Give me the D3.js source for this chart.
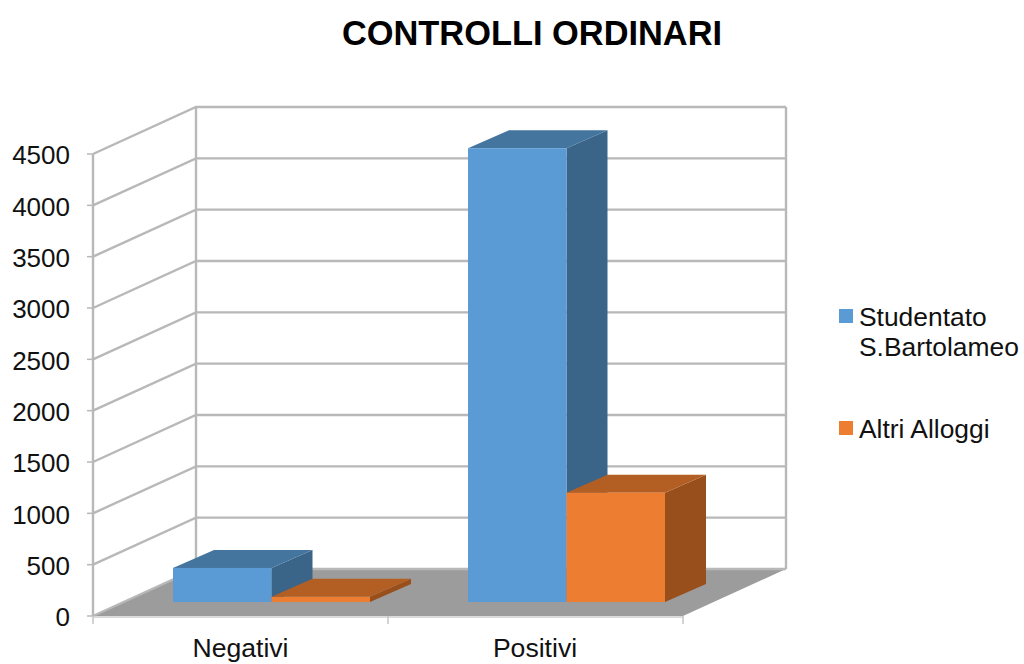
<!DOCTYPE html>
<html><head><meta charset="utf-8">
<script src="https://cdnjs.cloudflare.com/ajax/libs/d3/7.8.5/d3.min.js"></script>
<style>html,body{margin:0;padding:0;background:#fff}svg{display:block}text{font-family:"Liberation Sans",Arial,sans-serif;fill:#111}</style>
</head><body><div id="c"></div>
<script>
const categories=["Negativi","Positivi"];
const seriesNames=["Studentato S.Bartolameo","Altri Alloggi"];
const studentato=[332,4420];
const altriAlloggi=[50,1065];
const yTicks=[0,500,1000,1500,2000,2500,3000,3500,4000,4500];

const svg=d3.select("#c").append("svg").attr("width",1024).attr("height",664);
const W={x0:93,x1:683,y0:616,dx:103,dy:-47};
const y=d3.scaleLinear().domain([0,4500]).range([W.y0,W.y0-462]);
const x=d3.scaleBand().domain(categories).range([W.x0,W.x1]);
const grid="#b8b8b8";
const pts=a=>a.map(p=>p.join(",")).join(" ");

svg.append("polygon").attr("points",pts([[W.x0,W.y0],[W.x1,W.y0],[W.x1+W.dx,W.y0+W.dy],[W.x0+W.dx,W.y0+W.dy]])).attr("fill","#9c9c9c");
yTicks.forEach(t=>{
  const yy=y(t);
  svg.append("polyline").attr("points",pts([[W.x0,yy],[W.x0+W.dx,yy+W.dy],[W.x1+W.dx,yy+W.dy]])).attr("fill","none").attr("stroke",grid).attr("stroke-width",2.4);
  svg.append("line").attr("x1",W.x0-6).attr("x2",W.x0).attr("y1",yy).attr("y2",yy).attr("stroke",grid).attr("stroke-width",1.5);
  svg.append("text").attr("x",70).attr("y",yy+1).attr("dy","0.36em").attr("text-anchor","end").attr("font-size",26).text(t);
});
[[W.x0,y(0),W.x0,y(4500)],[W.x0+W.dx,y(0)+W.dy,W.x0+W.dx,y(4500)+W.dy],[W.x1+W.dx,y(0)+W.dy,W.x1+W.dx,y(4500)+W.dy]].forEach(l=>
  svg.append("line").attr("x1",l[0]).attr("y1",l[1]).attr("x2",l[2]).attr("y2",l[3]).attr("stroke",grid).attr("stroke-width",2.4));
svg.append("line").attr("x1",W.x0).attr("x2",W.x1).attr("y1",W.y0+1).attr("y2",W.y0+1).attr("stroke","#cfcfcf").attr("stroke-width",1.5);
[...categories.map(c=>x(c)),W.x1].forEach(v=>svg.append("line").attr("x1",v).attr("x2",v).attr("y1",W.y0).attr("y2",W.y0+8).attr("stroke","#c4c4c4").attr("stroke-width",1.5));
categories.forEach((c,i)=>svg.append("text").attr("x",x(c)+x.bandwidth()/2-(i?0.5:0)).attr("y",657).attr("text-anchor","middle").attr("font-size",26.6).text(c));

const bd=41, bh=-18, inset=80, bw=98.5, lift=14;
function bar(cat,v,si,front,top,side){
  const xl=x(cat)+inset+si*bw, xr=xl+bw, b=y(0)-lift, t=y(v)-lift;
  const g=svg.append("g");
  g.append("polygon").attr("points",pts([[xr,b],[xr+bd,b+bh],[xr+bd,t+bh],[xr,t]])).attr("fill",side);
  g.append("polygon").attr("points",pts([[xl,t],[xr,t],[xr+bd,t+bh],[xl+bd,t+bh]])).attr("fill",top);
  g.append("rect").attr("x",xl).attr("y",t).attr("width",bw).attr("height",b-t).attr("fill",front);
}
const B=["#5b9bd5","#44759f","#3a6488"],O=["#ed7d31","#b35f23","#984f1c"];
categories.forEach((c,i)=>bar(c,studentato[i],0,...B));
categories.forEach((c,i)=>bar(c,altriAlloggi[i],1,...O));

svg.append("text").attr("x",532).attr("y",45).attr("text-anchor","middle").attr("font-size",34.4).attr("font-weight","bold").style("fill","#000").text("CONTROLLI ORDINARI");
const lg=svg.append("g");
lg.append("rect").attr("x",839).attr("y",309).attr("width",14).attr("height",14).attr("fill",B[0]);
lg.append("text").attr("x",859).attr("y",326).attr("font-size",26.4).text("Studentato");
lg.append("text").attr("x",859).attr("y",356).attr("font-size",26.4).text("S.Bartolameo");
lg.append("rect").attr("x",839).attr("y",421).attr("width",14).attr("height",14).attr("fill",O[0]);
lg.append("text").attr("x",859).attr("y",438).attr("font-size",26.4).text("Altri Alloggi");
</script></body></html>
